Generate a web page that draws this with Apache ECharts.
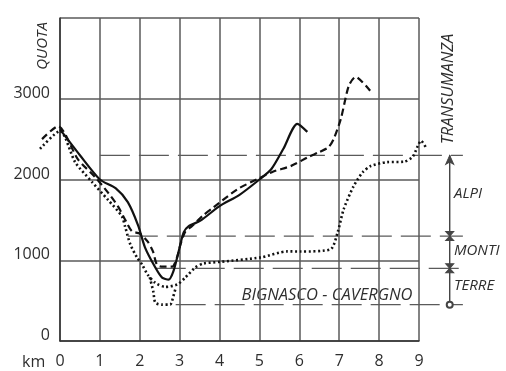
<!DOCTYPE html>
<html><head><meta charset="utf-8">
<script src="https://cdn.jsdelivr.net/npm/echarts@6/dist/echarts.min.js"></script>
<style>html,body{margin:0;padding:0;background:#fff}#c{width:506px;height:371px}</style>
</head><body><div id="c"></div>
<script>
// km, quota (m)
const routeSolid = [[0,2620],[0.5,2300],[1,2000],[1.4,1890],[1.7,1720],[1.96,1430],[2.13,1160],[2.39,910],[2.56,785],[2.72,760],[2.84,860],[2.97,1100],[3.1,1345],[3.22,1420],[3.52,1490],[4.0,1670],[4.5,1810],[5.0,2000],[5.3,2130],[5.6,2380],[5.95,2690],[6.2,2590]];
const routeDashed = [[-0.45,2500],[-0.05,2660],[0.45,2250],[0.88,2030],[1.2,1840],[1.45,1670],[1.63,1505],[1.8,1360],[2.0,1330],[2.2,1230],[2.33,1110],[2.43,945],[2.56,920],[2.81,920],[2.94,1045],[3.02,1195],[3.14,1355],[3.3,1420],[3.6,1560],[3.85,1655],[4.45,1880],[4.95,2005],[5.35,2100],[5.78,2165],[6.23,2280],[6.5,2340],[6.73,2400],[6.86,2500],[7.04,2750],[7.24,3160],[7.41,3270],[7.79,3090]];
const routeDotted = [[-0.5,2380],[0,2600],[0.38,2215],[0.8,1970],[1.2,1750],[1.55,1545],[1.63,1420],[1.76,1200],[1.93,1035],[2.06,945],[2.2,820],[2.39,720],[2.64,670],[2.94,700],[3.14,785],[3.39,910],[3.6,960],[4.02,980],[5.03,1035],[5.7,1110],[6.03,1108],[6.78,1135],[6.96,1345],[7.11,1630],[7.36,1917],[7.59,2090],[7.79,2167],[8.2,2215],[8.62,2220],[8.84,2280],[8.97,2415],[9.05,2480],[9.17,2400]];
const routeDottedValley = [[2.25,790],[2.34,610],[2.39,475],[2.56,450],[2.76,450],[2.84,550],[2.89,640]];
const levelQuota = [2300, 1300, 900, 450];
const levelStartKm = [1.0, 1.7, 2.4, 2.9];
const levelEndKm = 10.1;
const bracketKm = 9.77;
const kmMax = 9;
const quotaMax = 4000;
const quotaStep = 1000;
// overlay axis range (same scale, wider span so marks outside 0–9 km show)
const overlayKmMin = -0.6;
const overlayKmMax = 10.2;

const TXT = '#2e2e2e';
const GRID = '#5a5a5a';
const FONT = '"Open Sans", sans-serif';

// main grid geometry
const W = 506, gLeft = 60, gRight = 87;
const pxPerKm = (W - gLeft - gRight) / kmMax;
const oLeft = gLeft + overlayKmMin * pxPerKm;
const oRight = W - (oLeft + (overlayKmMax - overlayKmMin) * pxPerKm);

const series = [];
const lineBase = {type:'line', xAxisIndex:1, yAxisIndex:1, showSymbol:false, symbol:'none', clip:false, smooth:0.25, z:5};
series.push(Object.assign({}, lineBase, {data:routeSolid, lineStyle:{color:'#111', width:2.2}}));
series.push(Object.assign({}, lineBase, {data:routeDashed, lineStyle:{color:'#111', width:2.2, type:[7,4]}}));
series.push(Object.assign({}, lineBase, {data:routeDotted, lineStyle:{color:'#111', width:2.6, type:[2,2.6]}}));
series.push(Object.assign({}, lineBase, {data:routeDottedValley, lineStyle:{color:'#111', width:2.6, type:[2,2.6]}}));
levelQuota.forEach((q,i)=>{
  series.push({type:'line', xAxisIndex:1, yAxisIndex:1, symbol:'none', clip:false, z:3, silent:true,
    data:[[levelStartKm[i], q],[levelEndKm, q]],
    lineStyle:{color:GRID, width:1.3, type:[30,9]}});
});
const hourglass = 'path://M0,0 L10,0 L5,5 L10,10 L0,10 L5,5 Z';
series.push({type:'line', xAxisIndex:1, yAxisIndex:1, clip:false, z:4, silent:true,
  data:[
    {value:[bracketKm, levelQuota[0]], symbol:'arrow', symbolSize:[6,9]},
    {value:[bracketKm, levelQuota[1]], symbol:hourglass, symbolSize:[8,9]},
    {value:[bracketKm, levelQuota[2]], symbol:hourglass, symbolSize:[8,9]},
    {value:[bracketKm, levelQuota[3]], symbol:'emptyCircle', symbolSize:6}
  ],
  showSymbol:true,
  itemStyle:{color:'#444', borderColor:'#444'},
  lineStyle:{color:'#444', width:1.4}});

const chart = echarts.init(document.getElementById('c'), null, {renderer:'canvas'});
chart.setOption({
  animation:false,
  backgroundColor:'#fff',
  grid:[
    {left:gLeft, right:gRight, top:18, bottom:30, containLabel:false},
    {left:oLeft, right:oRight, top:18, bottom:30, containLabel:false}
  ],
  xAxis:[
    {type:'value', gridIndex:0, min:0, max:kmMax, interval:1,
      axisLine:{show:true, lineStyle:{color:'#333', width:1.5}},
      axisTick:{show:false},
      splitLine:{show:true, lineStyle:{color:GRID, width:1.5}},
      axisLabel:{color:TXT, fontSize:16, fontFamily:FONT, margin:12}},
    {type:'value', gridIndex:1, min:overlayKmMin, max:overlayKmMax, show:false,
      splitLine:{show:false}}
  ],
  yAxis:[
    {type:'value', gridIndex:0, min:0, max:quotaMax, interval:quotaStep,
      axisLine:{show:true, lineStyle:{color:'#333', width:1.5}},
      axisTick:{show:false},
      splitLine:{show:true, lineStyle:{color:GRID, width:1.5}},
      axisLabel:{color:TXT, fontSize:16, fontFamily:FONT, margin:10, verticalAlign:'bottom', lineHeight:11,
        formatter:v=> v===quotaMax ? '' : String(v)}},
    {type:'value', gridIndex:1, min:0, max:quotaMax, show:false, splitLine:{show:false}}
  ],
  graphic:[
    {type:'text', x:22, y:362, style:{text:'km', font:'16px '+FONT, fill:TXT, verticalAlign:'middle'}},
    {type:'text', x:43, y:46, rotation:Math.PI/2, style:{text:'QUOTA', font:'italic 15px '+FONT, fill:TXT, align:'center', verticalAlign:'middle'}},
    {type:'text', x:448, y:89, rotation:Math.PI/2, style:{text:'TRANSUMANZA', font:'italic 16.5px '+FONT, fill:TXT, align:'center', verticalAlign:'middle'}},
    {type:'text', x:454, y:194, style:{text:'ALPI', font:'italic 15px '+FONT, fill:TXT, verticalAlign:'middle'}},
    {type:'text', x:454, y:251, style:{text:'MONTI', font:'italic 15px '+FONT, fill:TXT, verticalAlign:'middle'}},
    {type:'text', x:454, y:286, style:{text:'TERRE', font:'italic 15px '+FONT, fill:TXT, verticalAlign:'middle'}},
    {type:'text', x:327, y:295, style:{text:'BIGNASCO - CAVERGNO', font:'italic 16.5px '+FONT, fill:TXT, align:'center', verticalAlign:'middle'}}
  ],
  series:series
});
</script></body></html>
